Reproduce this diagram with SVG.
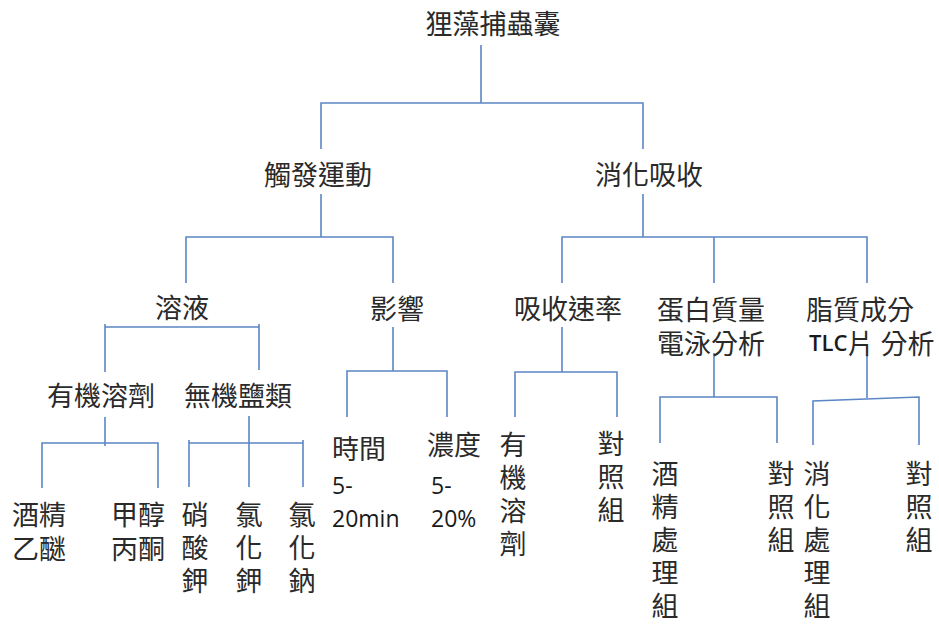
<svg xmlns="http://www.w3.org/2000/svg" width="939" height="624" viewBox="0 0 939 624">
<style>
.t{font-family:"Noto Sans CJK TC","Noto Sans CJK SC",sans-serif;font-size:27px;fill:#2a2a2a;dominant-baseline:central}
.m{text-anchor:middle}
.v{font-family:"Noto Sans CJK TC","Noto Sans CJK SC",sans-serif;font-size:27px;fill:#2a2a2a;writing-mode:vertical-rl;letter-spacing:6px}
.l{font-family:"Open Sans","Noto Sans",sans-serif;font-size:23px;fill:#1a1a1a;dominant-baseline:central}
.c{fill:none;stroke:#5b87c5;stroke-width:1.6}
</style>
<rect width="939" height="624" fill="#ffffff"/>
<g id="connectors" class="c">
<path d="M481,45 V103 M321,149 V103 H643 V149"/>
<path d="M321,194 V237 M186,283 V237 H393 V283"/>
<path d="M643,194 V237 M562,283 V237 H867 V283 M714,237 V283"/>
<path d="M105,372 V327 H259 V370 M105,324 V327 M259,324 V327"/>
<path d="M105,417 V443 M42,488 V443 H158 V488 M105,443 V446"/>
<path d="M249,416 V487 M189,487 V443 H303 V487 M189,440 V443 M303,440 V443"/>
<path d="M393,327 V371 M347,417 V371 H447 V417"/>
<path d="M562,327 V372 M515,417 V372 H617 V417"/>
<path d="M714,353 V397 M660,443 V397 H777 V443"/>
<path d="M867,355 V398 M813,445 V401 L919,397 V445"/>
</g>
<g id="root"><text class="t m" x="493" y="22">狸藻捕蟲囊</text></g>
<g id="touch"><text class="t m" x="318" y="173">觸發運動</text></g>
<g id="digest"><text class="t m" x="649" y="173">消化吸收</text></g>
<g id="solution"><text class="t m" x="182" y="306">溶液</text></g>
<g id="effect"><text class="t m" x="397" y="307">影響</text></g>
<g id="absorb"><text class="t m" x="568" y="307">吸收速率</text></g>
<g id="protein"><text class="t m" x="711" y="308">蛋白質量<tspan x="711" dy="34">電泳分析</tspan></text></g>
<g id="lipid"><text class="t" x="806" y="308">脂質成分<tspan x="809" dy="34"><tspan class="l" style="font-size:22px;font-weight:600">TLC</tspan>片 分析</tspan></text></g>
<g id="organic"><text class="t m" x="101" y="394">有機溶劑</text></g>
<g id="inorganic"><text class="t m" x="238" y="394">無機鹽類</text></g>
<g id="alcohol"><text class="t" x="12" y="513">酒精<tspan x="12" dy="34">乙醚</tspan></text></g>
<g id="methanol"><text class="t" x="111" y="513">甲醇<tspan x="111" dy="34">丙酮</tspan></text></g>
<g id="kno3"><text class="v" x="195" y="501">硝酸鉀</text></g>
<g id="kcl"><text class="v" x="249" y="501">氯化鉀</text></g>
<g id="nacl"><text class="v" x="302" y="501">氯化鈉</text></g>
<g id="time"><text class="t" x="332" y="447">時間</text><text class="l" x="332" y="485">5-<tspan x="332" dy="33">20min</tspan></text></g>
<g id="conc"><text class="t" x="427" y="443">濃度</text><text class="l" x="431" y="485">5-<tspan x="431" dy="33">20%</tspan></text></g>
<g id="abs-organic"><text class="v" x="513" y="431">有機溶劑</text></g>
<g id="abs-control"><text class="v" x="611" y="430">對照組</text></g>
<g id="alc-treat"><text class="v" x="665" y="460">酒精處理組</text></g>
<g id="pro-control"><text class="v" x="781" y="460">對照組</text></g>
<g id="dig-treat"><text class="v" x="817" y="460">消化處理組</text></g>
<g id="lip-control"><text class="v" x="919" y="460">對照組</text></g>
</svg>
